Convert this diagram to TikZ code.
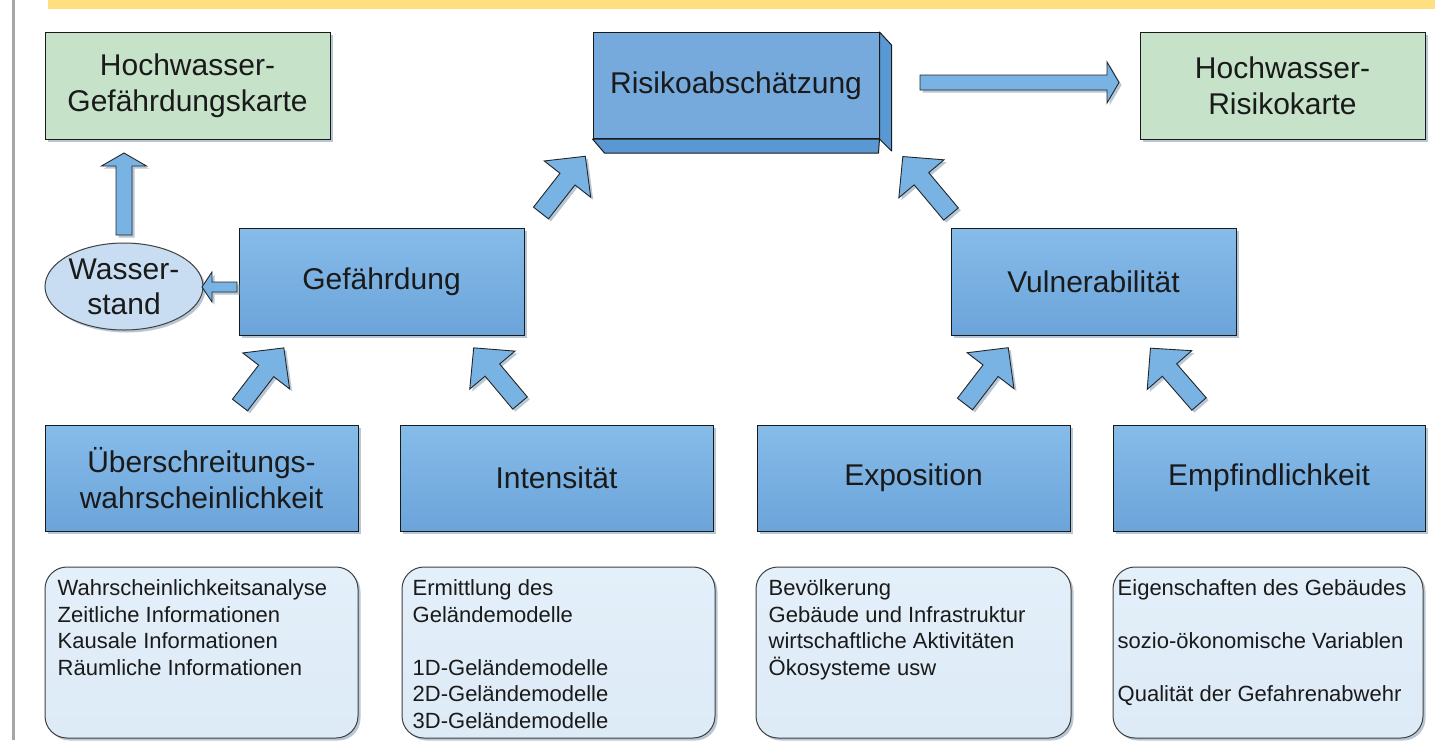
\documentclass[tikz,border=0pt]{standalone}
\usepackage{fontspec}
\setmainfont{Liberation Sans}
\usetikzlibrary{shapes.geometric,shadows}

\definecolor{boxtop}{HTML}{86BCE9}
\definecolor{boxbot}{HTML}{6CA4DA}
\definecolor{mygreen}{HTML}{C6E3C9}
\definecolor{infofill}{HTML}{DDEBF7}
\definecolor{infotop}{HTML}{E3EFF9}
\definecolor{arrowfill}{HTML}{79B3E4}
\definecolor{shadowcol}{HTML}{7F9AB3}
\definecolor{ellfill}{HTML}{C8DDF2}
\definecolor{riskfront}{HTML}{76AADD}
\definecolor{riskside}{HTML}{5A98D4}
\definecolor{bandcol}{HTML}{FFDF80}
\definecolor{txt}{HTML}{1A1A1A}

\newcommand{\blockarrow}[7]{%
  \begin{scope}[shift={({#1+2.5},{#2+2.5})},rotate=#3,x=1pt,y=1pt]
    \fill[arrowshadow] (0,{-#5/2}) -- ({#4-#7},{-#5/2}) -- ({#4-#7},{-#6/2}) -- (#4,0) -- ({#4-#7},{#6/2}) -- ({#4-#7},{#5/2}) -- (0,{#5/2}) -- cycle;
  \end{scope}
  \begin{scope}[shift={(#1,#2)},rotate=#3,x=1pt,y=1pt]
    \filldraw[barrow] (0,{-#5/2}) -- ({#4-#7},{-#5/2}) -- ({#4-#7},{-#6/2}) -- (#4,0) -- ({#4-#7},{#6/2}) -- ({#4-#7},{#5/2}) -- (0,{#5/2}) -- cycle;
  \end{scope}}

\tikzset{
  shad/.style={drop shadow={shadow xshift=2.5pt, shadow yshift=-2.5pt, fill=shadowcol, opacity=0.55}},
  bluebox/.style={draw=txt, line width=1pt, top color=boxtop, bottom color=boxbot,
    minimum height=107pt, inner sep=0pt, align=center, text=txt,
    font=\fontsize{30}{36}\selectfont, shad},
  greenbox/.style={draw=txt, line width=1pt, fill=mygreen, minimum width=285pt,
    minimum height=107pt, inner sep=0pt, align=center, text=txt,
    font=\fontsize{30}{36}\selectfont, shad},
  infobox/.style={draw=black!75, line width=1pt, top color=infotop, bottom color=infofill,
    rounded corners=22pt, minimum height=171pt, inner sep=0pt, shad},
  infotext/.style={anchor=north west, align=left, inner sep=0pt, text=txt,
    font=\fontsize{22}{26.5}\selectfont},
  barrow/.style={fill=arrowfill, draw=black!85, line width=0.9pt, line join=miter},
  arrowshadow/.style={fill=shadowcol, opacity=0.55},
  riskbox/.style={draw=txt, line width=1pt, fill=riskfront, minimum width=286pt,
    minimum height=106pt, inner sep=0pt, text=txt, font=\fontsize{30}{36}\selectfont},
  riskface/.style={draw=txt, line width=1pt, fill=riskside, line join=round},
  wsell/.style={ellipse, draw=black!75, line width=1pt, fill=ellfill, minimum width=158pt,
    minimum height=87pt, inner sep=0pt, shad},
  wstext/.style={align=center, inner sep=0pt, text=txt, font=\fontsize{30}{35}\selectfont}
}

\begin{document}
\begin{tikzpicture}[x=1pt,y=-1pt]
\useasboundingbox (0,0) rectangle (1435,740);
\fill[white] (0,0) rectangle (1435,740);

% frame decorations
\fill[bandcol] (48,0) rectangle (1435,9);
\fill[black!35] (11.5,0) rectangle (14.5,740);

% top row
\node[greenbox] (hgk) at (187.5,85.5) {Hochwasser-\\Gefährdungskarte};
\node[greenbox] (hrk) at (1282.5,85.5) {Hochwasser-\\Risikokarte};

\node[riskbox] (risk) at (736,85.5) {Risikoabschätzung};
\draw[riskface] (risk.north east) -- ++(12,13) -- ++(0,106) -- (risk.south east) -- cycle;
\draw[riskface] (risk.south west) -- ++(12,14) -- ++(274,0) -- (risk.south east) -- cycle;

% second row
\node[bluebox, minimum width=285pt] (gef) at (381.5,281.5) {Gefährdung};
\node[bluebox, minimum width=285pt] (vul) at (1093.5,281.5) {Vulnerabilität};
\node[wsell] (ws) at (124,286.5) {};
\node[wstext] (wst) at (ws.center) {Wasser-\\stand};

% third row
\node[bluebox, minimum width=313pt, minimum height=106pt] (ue) at (201.5,478) {Überschreitungs-\\wahrscheinlichkeit};
\node[bluebox, minimum width=313pt, minimum height=106pt] (int) at (556.5,478) {Intensität};
\node[bluebox, minimum width=313pt, minimum height=106pt] (exp) at (913.5,478) {Exposition};
\node[bluebox, minimum width=312pt, minimum height=106pt] (emp) at (1269,478) {Empfindlichkeit};

% info boxes
\node[infobox, minimum width=313pt] (i1) at (201.5,652.5) {};
\node[infobox, minimum width=313pt] (i2) at (558.5,652.5) {};
\node[infobox, minimum width=315pt] (i3) at (913.5,652.5) {};
\node[infobox, minimum width=310pt] (i4) at (1268,652.5) {};

\node[infotext] (t1) at ([shift={(13,13)}]i1.north west)
  {Wahrscheinlichkeitsanalyse\\Zeitliche Informationen\\Kausale Informationen\\Räumliche Informationen};
\node[infotext] (t2) at ([shift={(11,13)}]i2.north west)
  {Ermittlung des\\Geländemodelle\\[26.5pt]1D-Geländemodelle\\2D-Geländemodelle\\3D-Geländemodelle};
\node[infotext] (t3) at ([shift={(13,13)}]i3.north west)
  {Bevölkerung\\Gebäude und Infrastruktur\\wirtschaftliche Aktivitäten\\Ökosysteme usw};
\node[infotext] (t4) at ([shift={(5,13)}]i4.north west)
  {Eigenschaften des Gebäudes\\[26.5pt]sozio-ökonomische Variablen\\[26.5pt]Qualität der Gefahrenabwehr};

% block arrows: tail x, tail y, angle, length, shaft width, head width, head length
\blockarrow{124}{235}{90}{82}{16}{45}{13}
\blockarrow{237}{287}{180}{35}{10}{30}{10}
\blockarrow{920}{82.5}{0}{199}{15}{41}{12}
\blockarrow{240}{405}{52.5}{72}{19}{59}{29}
\blockarrow{520}{403}{130}{72}{19}{59}{29}
\blockarrow{541}{213}{52}{72}{19}{59}{29}
\blockarrow{951}{214}{130}{75}{19}{59}{29}
\blockarrow{965}{404}{52.5}{71}{19}{59}{29}
\blockarrow{1199}{404}{131}{74}{19}{59}{29}
\end{tikzpicture}
\end{document}
